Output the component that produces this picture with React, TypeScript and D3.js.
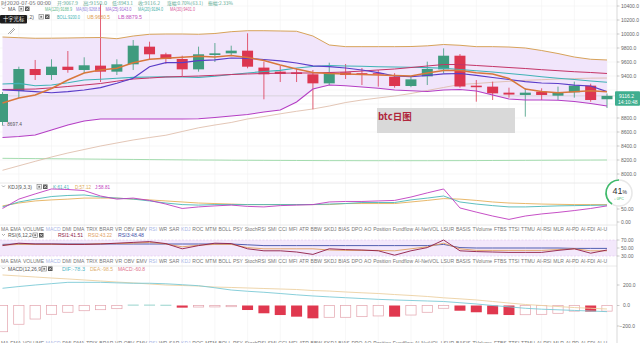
import React from "react";
import * as d3 from "d3";

const W = 640;
const H = 343;

// ---- candles (2020-05-29 .. 2020-07-05, daily) ----
const opens = [8743, 9186, 9500, 9414, 9533, 9486, 9548, 9462, 9567, 9819, 9710, 9643, 9495, 9700, 9724, 9762, 9520, 9462, 9452, 9424, 9295, 9452, 9440, 9440, 9390, 9257, 9395, 9495, 9690, 9262, 9248, 9162, 9129, 9176, 9119, 9167, 9262, 9067.9];
const highs = [9170, 9533, 9629, 9639, 9757, 9667, 10430, 9639, 9914, 9890, 9733, 9690, 9819, 9871, 9833, 10010, 9605, 9543, 9510, 9486, 9590, 9571, 9514, 9486, 9440, 9390, 9605, 9795, 9714, 9343, 9319, 9233, 9224, 9224, 9248, 9319, 9290, 9150];
const lows = [8697.4, 9086, 9343, 9343, 9447, 9439, 9314, 9414, 9486, 9629, 9575, 9400, 9462, 9600, 9700, 9510, 9067, 9314, 9314, 8924, 9271, 9357, 9271, 9248, 9233, 9240, 9271, 9438, 9233, 9033, 9057, 9090, 8819, 9057, 9057, 9090, 9033, 8943.1];
const closes = [9143, 9500, 9414, 9533, 9486, 9553, 9462, 9567, 9833, 9710, 9643, 9495, 9710, 9724, 9762, 9533, 9424, 9429, 9429, 9295, 9448, 9414, 9433, 9434, 9257, 9352, 9500, 9690, 9250, 9240, 9152, 9135, 9162, 9129, 9167, 9262, 9057, 9116.2];

// ---- overlays ----
const bollUp = [9957, 9947, 9939, 9940, 9943, 9947, 9950, 9933, 9971, 9996, 10000, 10000, 9996, 10007, 10033, 10047, 10047, 10043, 10039, 9971, 9843, 9819, 9819, 9819, 9819, 9821, 9831, 9850, 9839, 9819, 9819, 9814, 9800, 9764, 9721, 9671, 9639, 9629];
const bollLow = [8521, 8536, 8557, 8629, 8700, 8757, 8786, 8786, 8786, 8786, 8786, 8786, 8790, 8807, 8829, 8850, 8886, 8914, 9029, 9214, 9271, 9261, 9243, 9224, 9200, 9190, 9179, 9200, 9207, 9186, 9129, 9071, 9057, 9057, 9053, 9036, 9007, 8971];
const bollMid = [9286, 9294, 9260, 9271, 9304, 9343, 9353, 9367, 9381, 9386, 9390, 9386, 9381, 9397, 9421, 9443, 9464, 9481, 9514, 9536, 9550, 9543, 9539, 9533, 9529, 9524, 9519, 9511, 9493, 9474, 9457, 9436, 9414, 9389, 9367, 9350, 9329, 9310];
const maFast = [9014, 9086, 9129, 9221, 9343, 9443, 9486, 9510, 9590, 9639, 9653, 9667, 9683, 9671, 9693, 9664, 9621, 9557, 9500, 9450, 9436, 9429, 9421, 9414, 9407, 9400, 9443, 9479, 9479, 9447, 9429, 9364, 9214, 9179, 9161, 9174, 9189, 9176];
const maPurple = [9200, 9190, 9176, 9161, 9176, 9200, 9233, 9296, 9367, 9533, 9590, 9590, 9619, 9629, 9657, 9653, 9636, 9617, 9586, 9546, 9533, 9514, 9486, 9447, 9400, 9390, 9407, 9429, 9436, 9410, 9379, 9350, 9319, 9300, 9293, 9271, 9257, 9176];
const maCrimson = [9207, 9210, 9214, 9231, 9250, 9271, 9293, 9326, 9357, 9371, 9386, 9393, 9400, 9410, 9421, 9429, 9436, 9440, 9443, 9443, 9450, 9457, 9471, 9486, 9500, 9521, 9543, 9564, 9564, 9550, 9536, 9521, 9507, 9490, 9476, 9461, 9450, 9436];
const maLong = [8053, 8117, 8181, 8243, 8300, 8350, 8400, 8443, 8486, 8521, 8554, 8607, 8660, 8700, 8736, 8786, 8821, 8860, 8896, 8929, 8971, 9021, 9057, 9086, 9114, 9150, 9193, 9236, 9279, 9293, 9310, 9324, 9339, 9347, 9357, 9363, 9369, 9371];
const maXLong = [8224, 8222, 8220, 8218, 8216, 8214, 8212, 8210, 8208, 8206, 8204, 8202, 8200, 8199, 8197, 8196, 8195, 8194, 8193, 8192, 8191, 8191, 8190, 8190, 8190, 8190, 8190, 8191, 8191, 8192, 8193, 8194, 8195, 8196, 8197, 8198, 8199, 8200];

// ---- KDJ ----
const kVals = [58, 77, 88, 98, 102, 104, 96, 92, 88, 81, 73, 67, 65, 67, 67, 67, 67, 67, 67, 67, 69, 71, 75, 75, 75, 85, 92, 100, 77, 69, 63, 58, 58, 60, 62, 63, 64, 65];
const dVals = [62, 73, 81, 85, 88, 92, 92, 92, 88, 85, 81, 77, 73, 71, 69, 67, 67, 67, 67, 67, 67, 71, 71, 71, 71, 77, 83, 90, 88, 83, 77, 73, 71, 69, 68, 67, 67, 67];
const jVals = [52, 88, 108, 127, 125, 121, 100, 88, 92, 83, 69, 52, 58, 62, 65, 60, 58, 63, 65, 67, 77, 79, 79, 81, 83, 96, 112, 127, 54, 38, 23, 10, 23, 31, 37, 44, 52, 62];

// ---- RSI ----
const rsi1 = [56, 62, 60, 60, 59, 59, 60, 62, 64, 66, 61, 48, 56, 62, 61, 48, 43, 43, 40, 34, 48, 46, 45, 43, 32, 43, 51, 70, 43, 41, 40, 39, 39, 39, 44, 48, 37, 45];
const rsi2 = [57, 59, 59, 59, 59, 59, 61, 61, 62, 64, 60, 53, 57, 59, 59, 51, 48, 48, 48, 48, 45, 44, 44, 44, 43, 48, 53, 62, 48, 44, 44, 44, 44, 44, 46, 48, 43, 43];
const rsi3 = [59, 60, 60, 60, 60, 60, 60, 60, 60, 60, 60, 60, 60, 60, 60, 58, 56, 56, 56, 56, 56, 56, 56, 56, 56, 56, 56, 59, 51, 50, 50, 50, 50, 50, 50, 49, 49, 49];

// ---- MACD ----
const difVals = [168, 185, 200, 213, 226, 226, 226, 221, 217, 217, 212, 203, 193, 173, 151, 139, 129, 117, 104, 93, 84, 76, 68, 60, 54, 49, 44, 39, 27, 15, 0, -13, -27, -36, -42, -48, -54, -60];
const deaVals = [298, 288, 278, 268, 259, 249, 239, 229, 220, 210, 200, 195, 190, 180, 176, 171, 166, 161, 156, 146, 141, 132, 124, 117, 107, 98, 88, 75, 65, 54, 39, 24, 10, 0, -10, -20, -27, -34];
const macdVals = [-256, -183, -132, -86, -66, -51, -41, -31, 4, 4, 3, -21, -15, -14, -12, -44, -76, -93, -109, -125, -115, -115, -109, -102, -109, -93, -66, -27, -51, -66, -86, -93, -90, -86, -76, -55, -60, -55];

const priceTicks = [8000, 8200, 8400, 8600, 8800, 9000, 9200, 9400, 9600, 9800, 10000, 10200, 10400];
const kdjTicks = [0, 50];
const rsiTicks = [30, 50, 70];
const macdTicks = [-200, 0, 200];

const tabs = ["MA", "EMA", "VOLUME", "MACD", "DMI", "DMA", "TRIX", "BRAR", "VR", "OBV", "EMV", "RSI", "WR", "SAR", "KDJ", "ROC", "MTM", "BOLL", "PSY", "StochRSI", "SMI", "CCI", "MFI", "ATR", "BBW", "SKDJ", "BIAS", "DPO", "AO", "Position", "Fundflow", "AI-NetVOL", "LSUR", "BASIS", "TVolume", "FTBS", "TTSI", "TTMU", "AI-RSI", "MLR", "AI-PD", "AI-FDI", "AI-U"];
const activeTabs = ["MACD", "RSI", "KDJ"];

const FONT = "'Liberation Sans', Arial, 'Noto Sans CJK SC', sans-serif";
const CJK = "'Noto Sans CJK SC', 'Liberation Sans', sans-serif";

const UP = "#3f9b7e";
const DOWN = "#dc3650";
const AXIS_X = 617;

const xScale = d3.scaleLinear().domain([0, closes.length - 1]).range([2.5, 607]);
const yMain = d3.scaleLinear().domain([8000, 10400]).range([174, 6]);
const yKdj = d3.scaleLinear().domain([0, 100]).range([222, 196]);
const yRsi = d3.scaleLinear().domain([30, 70]).range([256, 240]);
const yMacd = d3.scaleLinear().domain([-200, 200]).range([326, 285]);

function lineFor(scale: d3.ScaleLinear<number, number>) {
  return d3
    .line<number>()
    .x((_, i) => xScale(i))
    .y((v) => scale(v));
}

function measureTabs(size: number) {
  let widths = tabs.map((t) => t.length * size * 0.55);
  try {
    const c = document.createElement("canvas");
    const ctx = c.getContext("2d");
    if (ctx) {
      ctx.font = `${size}px 'Liberation Sans'`;
      widths = tabs.map((t) => ctx.measureText(t).width);
    }
  } catch (e) {
    /* ignore */
  }
  const total = d3.sum(widths);
  const gap = (607 - 1 - total) / (tabs.length - 1);
  const xs: number[] = [];
  let x = 1;
  widths.forEach((w) => {
    xs.push(x);
    x += w + gap;
  });
  return xs;
}

function TabRow({ y, xs }: { y: number; xs: number[] }) {
  return (
    <g>
      {tabs.map((t, i) => (
        <text
          key={t}
          x={xs[i]}
          y={y}
          fontSize={5}
          fontFamily={FONT}
          fill={activeTabs.includes(t) ? "#a9b6e6" : "#777"}
        >
          {t}
        </text>
      ))}
    </g>
  );
}

function Icons({ x, y }: { x: number; y: number }) {
  return (
    <g>
      <rect x={x} y={y - 4} width={4.5} height={4.5} fill="#fff" stroke="#777" strokeWidth={0.6} />
      <rect x={x + 1.3} y={y - 2.7} width={1.9} height={1.9} fill="#777" />
      <rect x={x + 6} y={y - 4} width={4.5} height={4.5} fill="#555" />
      <path d={`M${x + 7},${y - 3} L${x + 9.5},${y - 0.5} M${x + 9.5},${y - 3} L${x + 7},${y - 0.5}`} stroke="#fff" strokeWidth={0.6} />
    </g>
  );
}

type Item = { x: number; w: number; text: string; color: string };

function FitText({ it, y, family }: { it: Item; y: number; family: string }) {
  return (
    <text x={it.x} y={y} fill={it.color} fontFamily={family} fontSize={4.6} textLength={it.w} lengthAdjust="spacingAndGlyphs">
      {it.text}
    </text>
  );
}

function LabelRow({
  y,
  title,
  iconX,
  items,
  titleClip,
}: {
  y: number;
  title: string;
  iconX: number;
  items: Item[];
  titleClip?: string;
}) {
  return (
    <g fontFamily={FONT} fontSize={5}>
      <path d={`M2,${y - 3} L3.5,${y - 1.5} L5,${y - 3}`} fill="none" stroke="#777" strokeWidth={0.6} />
      <text x={8} y={y} fill="#555" clipPath={titleClip}>
        {title}
      </text>
      <Icons x={iconX} y={y} />
      {items.map((it) => (
        <FitText key={it.text} it={it} y={y} family={FONT} />
      ))}
    </g>
  );
}

export default function App() {
  const tabXs = measureTabs(5);
  const n = closes.length;
  const idx = d3.range(n);
  const bw = 11;
  const last = closes[n - 1];

  const bandArea = d3
    .area<number>()
    .x((_, i) => xScale(i))
    .y0((_, i) => yMain(bollLow[i]))
    .y1((v) => yMain(v));

  const mainLine = lineFor(yMain);
  const kdjLine = lineFor(yKdj);
  const rsiLine = lineFor(yRsi);
  const macdLine = lineFor(yMacd);

  const gridX = idx.filter((i) => i % 2 === 1).map((i) => xScale(i));
  const fmt1 = d3.format(".1f");
  const fmt2 = d3.format(".2f");

  const arc = d3.arc()({
    innerRadius: 12.2,
    outerRadius: 13.8,
    startAngle: -2 * Math.PI * 0.41,
    endAngle: 0,
  } as any) as string;

  const tagTop = yMain(last) - 4.5;
  const tagBottom = tagTop + 14.5;
  const visiblePriceTicks = priceTicks.filter((p) => {
    const y = yMain(p);
    return y < tagTop - 2 || y > tagBottom + 2;
  });

  const headerItems: Item[] = [
    { x: 57, w: 21, text: "开:9067.9", color: "#5eab96" },
    { x: 83, w: 24, text: "高:9150.0", color: "#5eab96" },
    { x: 112, w: 21, text: "低:8943.1", color: "#5eab96" },
    { x: 138, w: 22, text: "收:9116.2", color: "#5eab96" },
    { x: 167, w: 36, text: "涨幅:0.70%(63.1)", color: "#5eab96" },
    { x: 208, w: 25, text: "振幅:2.33%", color: "#5eab96" },
  ];

  return (
    <svg
      width={W}
      height={H}
      viewBox={`0 0 ${W} ${H}`}
      style={{ position: "absolute", left: 0, top: 0, background: "#fff" }}
    >
      <defs>
        <clipPath id="mainClip">
          <rect x={0} y={0} width={AXIS_X} height={183} />
        </clipPath>
        <clipPath id="bollTitleClip">
          <rect x={27.5} y={0} width={20} height={30} />
        </clipPath>
      </defs>
      <rect x={0} y={0} width={W} height={H} fill="#fff" />

      {/* ===== grid ===== */}
      <g stroke="#f1f1f1" strokeWidth={0.6}>
        {gridX.map((x, i) => (
          <line key={i} x1={x} x2={x} y1={0} y2={H} />
        ))}
        {priceTicks.map((p) => (
          <line key={p} x1={0} x2={AXIS_X} y1={yMain(p)} y2={yMain(p)} />
        ))}
      </g>

      {/* ===== main pane ===== */}
      <g clipPath="url(#mainClip)">
        <path d={bandArea(bollUp) || ""} fill="#f1e5fb" />
        <path d={mainLine(maXLong) || ""} fill="none" stroke="#9ad8a6" strokeWidth={0.9} />
        <path d={mainLine(maLong) || ""} fill="none" stroke="#dcb7a3" strokeWidth={0.8} />
        <line x1={0} x2={AXIS_X} y1={yMain(last)} y2={yMain(last)} stroke="#c8c8c8" strokeWidth={0.6} />
        {idx.map((i) => {
          const o = opens[i];
          const c = closes[i];
          const col = c >= o ? UP : DOWN;
          const x = xScale(i);
          const top = yMain(Math.max(o, c));
          const h = Math.max(1.2, Math.abs(yMain(o) - yMain(c)));
          return (
            <g key={i}>
              <line x1={x} x2={x} y1={yMain(highs[i])} y2={yMain(lows[i])} stroke={col} strokeWidth={0.8} />
              <rect x={x - bw / 2} y={top} width={bw} height={h} fill={col} />
            </g>
          );
        })}
        <path d={mainLine(bollUp) || ""} fill="none" stroke="#d7a35a" strokeWidth={1} />
        <path d={mainLine(bollLow) || ""} fill="none" stroke="#b43ec4" strokeWidth={1.1} />
        <path d={mainLine(bollMid) || ""} fill="none" stroke="#3fb3b6" strokeWidth={1.1} />
        <path d={mainLine(maCrimson) || ""} fill="none" stroke="#c43466" strokeWidth={1} />
        <path d={mainLine(maPurple) || ""} fill="none" stroke="#5a3dc8" strokeWidth={1.2} />
        <path d={mainLine(maFast) || ""} fill="none" stroke="#d8773c" strokeWidth={1.5} />

        {/* low marker */}
        <text x={1} y={126} fontSize={4.8} fontFamily={FONT} fill="#555">
          {"← " + lows[0].toFixed(1)}
        </text>

        {/* watermark */}
        <rect x={377} y={108} width={138} height={25} fill="#d9d9d9" />
        <text x={378} y={119.5} fontSize={9.5} fontWeight="bold" fontFamily={CJK} fill="#b0263c">
          btc日图
        </text>
      </g>

      {/* header rows */}
      <text x={1} y={4.6} fill="#666" fontFamily={CJK} fontSize={4.6} textLength={50} lengthAdjust="spacingAndGlyphs">
        时2020-07-05 00:00
      </text>
      {headerItems.map((it) => (
        <FitText key={it.text} it={it} y={4.6} family={CJK} />
      ))}
      <LabelRow
        y={10.5}
        title="MA"
        iconX={19}
        items={[
          { x: 45, w: 27, text: "MA(120):9188.9", color: "#5db88a" },
          { x: 76, w: 24, text: "MA(60):9268.8", color: "#8d7fdc" },
          { x: 105.5, w: 26, text: "MA(25):9143.0", color: "#9b6ad6" },
          { x: 138, w: 25, text: "MA(20):9184.0", color: "#45b0a8" },
          { x: 170, w: 25, text: "MA(30):9401.0", color: "#d9589a" },
        ]}
      />
      <LabelRow
        y={18.5}
        title="BOLL(20,2)"
        iconX={39}
        titleClip="url(#bollTitleClip)"
        items={[
          { x: 57, w: 23, text: "BOLL:9200.0", color: "#3fb3b6" },
          { x: 87, w: 23, text: "UB:9680.5", color: "#e0a050" },
          { x: 118, w: 24, text: "LB:8879.5", color: "#c050c0" },
        ]}
      />
      <rect x={0} y={15} width={27} height={8.5} rx={1} fill="#1c1c1c" />
      <text x={3} y={21.3} fontSize={5.3} fontFamily={CJK} fill="#fff">
        十字光标
      </text>
      <g stroke="#888" strokeWidth={0.7} fill="none">
        <path d="M8,34 L14,28 M10,34 L15,29" />
      </g>

      {/* ===== separators ===== */}
      <g stroke="#e4e4e4" strokeWidth={0.8}>
        <line x1={0} x2={AXIS_X} y1={183} y2={183} />
        <line x1={0} x2={AXIS_X} y1={225} y2={225} />
        <line x1={0} x2={AXIS_X} y1={266} y2={266} />
      </g>

      {/* ===== KDJ pane ===== */}
      <LabelRow
        y={188.5}
        title="KDJ(9,3,3)"
        iconX={37}
        items={[
          { x: 53, w: 16, text: "K:61.41", color: "#4cb8b8" },
          { x: 75, w: 16, text: "D:57.12", color: "#e0ac55" },
          { x: 95, w: 15, text: "J:58.81", color: "#c03cc0" },
        ]}
      />
      <path d={kdjLine(dVals) || ""} fill="none" stroke="#e5b05a" strokeWidth={0.9} />
      <path d={kdjLine(kVals) || ""} fill="none" stroke="#4cb8b8" strokeWidth={0.9} />
      <path d={kdjLine(jVals) || ""} fill="none" stroke="#c03cc0" strokeWidth={0.9} />

      {/* tab row 1 */}
      <TabRow y={231} xs={tabXs} />

      {/* ===== RSI pane ===== */}
      <LabelRow
        y={237}
        title="RSI(6,12,24)"
        iconX={33}
        items={[
          { x: 58, w: 25, text: "RSI1:41.51", color: "#8e1b45" },
          { x: 88, w: 24, text: "RSI2:43.22", color: "#e0a060" },
          { x: 118, w: 26, text: "RSI3:48.48", color: "#3f4fa8" },
        ]}
      />
      <rect x={0} y={yRsi(70)} width={AXIS_X} height={yRsi(30) - yRsi(70)} fill="#f3e8fb" />
      <g stroke="#d8b8e8" strokeWidth={0.5} strokeDasharray="2,1.5">
        <line x1={0} x2={AXIS_X} y1={yRsi(70)} y2={yRsi(70)} />
        <line x1={0} x2={AXIS_X} y1={yRsi(30)} y2={yRsi(30)} />
      </g>
      <path d={rsiLine(rsi3) || ""} fill="none" stroke="#3f4fa8" strokeWidth={0.9} />
      <path d={rsiLine(rsi2) || ""} fill="none" stroke="#e0a060" strokeWidth={0.9} />
      <path d={rsiLine(rsi1) || ""} fill="none" stroke="#8e1b45" strokeWidth={0.9} />

      {/* tab row 2 */}
      <TabRow y={263} xs={tabXs} />

      {/* ===== MACD pane ===== */}
      <LabelRow
        y={270.5}
        title="MACD(12,26,9)"
        iconX={42}
        items={[
          { x: 62, w: 23, text: "DIF:-78.3", color: "#4fb6c6" },
          { x: 90, w: 23, text: "DEA:-98.5", color: "#e0b070" },
          { x: 118, w: 27, text: "MACD:-60.8", color: "#e0708a" },
        ]}
      />
      {idx.map((i) => {
        const v = macdVals[i];
        const x = xScale(i);
        const y0 = yMacd(0);
        const y1 = yMacd(v);
        if (v >= 0) {
          return (
            <rect key={i} x={x - bw / 2} y={Math.min(y0, y1) - 0.4} width={bw} height={Math.max(0.8, Math.abs(y1 - y0))} fill="#7cc8bf" />
          );
        }
        const filled = i > 0 && Math.abs(v) > Math.abs(macdVals[i - 1]);
        return filled ? (
          <rect key={i} x={x - bw / 2} y={y0} width={bw} height={y1 - y0} fill="#e0384f" />
        ) : (
          <rect key={i} x={x - bw / 2 + 0.35} y={y0} width={bw - 0.7} height={y1 - y0} fill="#fff" stroke="#e3a3ad" strokeWidth={0.7} />
        );
      })}
      <path d={macdLine(deaVals) || ""} fill="none" stroke="#ecd0a2" strokeWidth={0.9} />
      <path d={macdLine(difVals) || ""} fill="none" stroke="#7ccad6" strokeWidth={0.9} />

      {/* bottom tab row (cut by the frame in the screenshot) */}
      <TabRow y={344.5} xs={tabXs} />

      {/* ===== right axis ===== */}
      <rect x={AXIS_X} y={0} width={W - AXIS_X} height={H} fill="#fff" />
      <line x1={AXIS_X} x2={AXIS_X} y1={0} y2={H} stroke="#cfcfcf" strokeWidth={0.8} />
      <g fontFamily={FONT} fontSize={5} fill="#666">
        {visiblePriceTicks.map((p) => (
          <g key={p}>
            <line x1={AXIS_X} x2={AXIS_X + 2.5} y1={yMain(p)} y2={yMain(p)} stroke="#999" strokeWidth={0.5} />
            <text x={621} y={yMain(p) + 1.8}>{fmt1(p)}</text>
          </g>
        ))}
        {kdjTicks.map((p) => (
          <g key={"k" + p}>
            <line x1={AXIS_X} x2={AXIS_X + 2.5} y1={yKdj(p)} y2={yKdj(p)} stroke="#999" strokeWidth={0.5} />
            <text x={621} y={yKdj(p) + 1.8}>{fmt2(p)}</text>
          </g>
        ))}
        {rsiTicks.map((p) => (
          <g key={"r" + p}>
            <line x1={AXIS_X} x2={AXIS_X + 2.5} y1={yRsi(p)} y2={yRsi(p)} stroke="#999" strokeWidth={0.5} />
            <text x={621} y={yRsi(p) + 1.8}>{fmt2(p)}</text>
          </g>
        ))}
        {macdTicks.map((p) => (
          <g key={"m" + p}>
            <line x1={AXIS_X} x2={AXIS_X + 2.5} y1={yMacd(p)} y2={yMacd(p)} stroke="#999" strokeWidth={0.5} />
            <text x={p < 0 ? 619.5 : 623} y={yMacd(p) + 1.8}>{fmt1(p)}</text>
          </g>
        ))}
      </g>

      {/* current price tag */}
      <rect x={615} y={tagTop} width={25} height={14.5} rx={1} fill="#3fae8f" />
      <text x={619} y={yMain(last) + 1.8} fontSize={5} fontFamily={FONT} fill="#fff">
        {fmt1(last)}
      </text>
      <text x={618} y={yMain(last) + 8.3} fontSize={5} fontFamily={FONT} fill="#fff">
        14:10:48
      </text>

      {/* progress badge */}
      <g transform="translate(619,193)">
        <circle r={13} fill="#fff" stroke="#e8e8e8" strokeWidth={1.6} />
        <path d={arc} fill="#3dbb6a" />
        <text x={-6.5} y={1} fontSize={9} fontFamily={FONT} fill="#333">
          41
        </text>
        <text x={3.6} y={1} fontSize={5} fontFamily={FONT} fill="#333">
          %
        </text>
        <text x={-5} y={7} fontSize={3.6} fontFamily={FONT} fill="#3dbb6a">
          ↓ 0PC
        </text>
      </g>
    </svg>
  );
}
